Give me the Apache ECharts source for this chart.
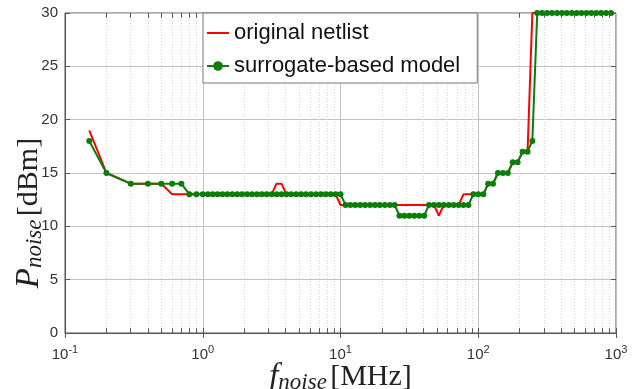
<!DOCTYPE html>
<html><head><meta charset="utf-8">
<script src="https://cdn.jsdelivr.net/npm/echarts@6/dist/echarts.min.js"></script>
<style>html,body{margin:0;padding:0;background:#fff}#c{width:641px;height:389px}</style>
</head><body><div id="c"></div>
<script>
const freqs = [0.15, 0.2, 0.3, 0.4, 0.5, 0.6, 0.7, 0.8, 0.9,
  1, 1.09, 1.18, 1.28, 1.39, 1.51, 1.64, 1.78, 1.93, 2.1, 2.28, 2.47, 2.68, 2.91, 3.16, 3.43, 3.73, 4.05, 4.39, 4.77, 5.18, 5.62, 6.11, 6.63, 7.2, 7.81, 8.48, 9.21,
  10, 10.9, 11.8, 12.8, 13.9, 15.1, 16.4, 17.8, 19.3, 21, 22.8, 24.7, 26.8, 29.1, 31.6, 34.3, 37.3, 40.5, 43.9, 47.7, 51.8, 56.2, 61.1, 66.3, 72, 78.1, 84.8, 92.1,
  100, 109, 118, 128, 139, 151, 164, 178, 193, 210, 228, 247, 268, 291, 316, 343, 373, 405, 439, 477, 518, 562, 611, 663, 720, 781, 848, 921, 1000];
const originalNetlist = [19, 15, 14, 14, 14, 13, 13, 13, 13,
  13, 13, 13, 13, 13, 13, 13, 13, 13, 13, 13, 13, 13, 13, 13, 14, 14, 13, 13, 13, 13, 13, 13, 13, 13, 13, 13, 13,
  12, 12, 12, 12, 12, 12, 12, 12, 12, 12, 12, 12, 12, 12, 12, 12, 12, 12, 12, 12, 11, 12, 12, 12, 12, 13, 13, 13,
  13, 13, 14, 14, 15, 15, 15, 16, 16, 17, 17, 30, 30, 30, 30, 30, 30, 30, 30, 30, 30, 30, 30, 30, 30, 30, 30, 30];
const surrogateModel = [18, 15, 14, 14, 14, 14, 14, 13, 13,
  13, 13, 13, 13, 13, 13, 13, 13, 13, 13, 13, 13, 13, 13, 13, 13, 13, 13, 13, 13, 13, 13, 13, 13, 13, 13, 13, 13,
  13, 12, 12, 12, 12, 12, 12, 12, 12, 12, 12, 12, 11, 11, 11, 11, 11, 11, 12, 12, 12, 12, 12, 12, 12, 12, 12, 13,
  13, 13, 14, 14, 15, 15, 15, 16, 16, 17, 17, 18, 30, 30, 30, 30, 30, 30, 30, 30, 30, 30, 30, 30, 30, 30, 30, 30];
const minorGrid = [0.2, 0.3, 0.4, 0.5, 0.6, 0.7, 0.8, 0.9, 2, 3, 4, 5, 6, 7, 8, 9, 20, 30, 40, 50, 60, 70, 80, 90, 200, 300, 400, 500, 600, 700, 800, 900];
const seriesNames = ['original netlist', 'surrogate-based model'];

const chart = echarts.init(document.getElementById('c'), null, {renderer: 'canvas'});
const zip = (ys) => freqs.map((f, i) => [f, ys[i]]);
const gridLines = minorGrid.map(v => ({xAxis: v}));
const minorTickSegs = [];
minorGrid.forEach(v => {
  minorTickSegs.push([{coord: [v, 0]}, {coord: [v, 0.45]}]);
  minorTickSegs.push([{coord: [v, 30]}, {coord: [v, 29.55]}]);
});
const serif = '"Liberation Serif", "DejaVu Serif", serif';
const sans = '"Liberation Sans", Arial, sans-serif';
const lineIcon = 'path://M0,5h22v2h-22z M0,0h0.01v0.01h-0.01z M21.99,11.99h0.01v0.01h-0.01z';
const titleRich = (lead) => ({
  [lead]: {fontFamily: serif, fontStyle: 'italic', fontSize: 33, color: '#222'},
  sub: {fontFamily: serif, fontStyle: 'italic', fontSize: 23, color: '#222', padding: [11, 0, 0, 0]},
  u: {fontFamily: serif, fontSize: 30, color: '#222'}
});
chart.setOption({
  animation: false,
  grid: {left: 65, right: 25, top: 13, bottom: 56, containLabel: false, outerBoundsMode: 'none',
    show: true, borderColor: '#555', borderWidth: 1, backgroundColor: 'transparent'},
  legend: {
    data: [{name: seriesNames[0], icon: lineIcon}, {name: seriesNames[1]}],
    orient: 'vertical', left: 203, top: 13, z: 20, zlevel: 0,
    padding: [8, 17, 5, 3], itemGap: 9, itemWidth: 22, itemHeight: 12,
    backgroundColor: '#fff', borderColor: '#777', borderWidth: 1, borderRadius: 0,
    textStyle: {fontFamily: sans, fontSize: 22, color: '#111', lineHeight: 24}
  },
  xAxis: [{
    type: 'log', logBase: 10, min: 0.1, max: 1000,
    axisLine: {lineStyle: {color: '#555'}},
    axisTick: {inside: true, length: 5, lineStyle: {color: '#555'}},
    splitLine: {show: true, lineStyle: {color: '#c2c2c2', width: 1}},
    axisLabel: {
      margin: 11, color: '#333',
      formatter: v => '{b|10}{s|' + Math.round(Math.log10(v)) + '}',
      rich: {b: {fontFamily: sans, fontSize: 15, color: '#333'}, s: {fontFamily: sans, fontSize: 11, color: '#333', padding: [0, 0, 10, 0]}}
    },
    name: '{f|f}{sub|noise} {u|[MHz]}', nameLocation: 'middle', nameGap: 27, nameMoveOverlap: false,
    nameTextStyle: {rich: titleRich('f')}
  }, {
    type: 'log', logBase: 10, min: 0.1, max: 1000, position: 'top',
    axisLine: {show: false}, axisLabel: {show: false}, splitLine: {show: false},
    axisTick: {inside: true, length: 5, lineStyle: {color: '#555'}}
  }],
  yAxis: [{
    type: 'value', min: 0, max: 30, interval: 5,
    axisLine: {show: true, lineStyle: {color: '#555'}},
    axisTick: {show: true, inside: true, length: 5, lineStyle: {color: '#555'}},
    splitLine: {show: true, lineStyle: {color: '#c2c2c2', width: 1}},
    axisLabel: {margin: 7, fontFamily: sans, fontSize: 15, color: '#333'},
    name: '{p|P}{sub|noise} {u|[dBm]}', nameLocation: 'middle', nameRotate: 90, nameGap: 19, nameMoveOverlap: false,
    nameTextStyle: {padding: [0, 80, 0, 0], rich: titleRich('p')}
  }, {
    type: 'value', min: 0, max: 30, interval: 5, position: 'right',
    axisLine: {show: false}, axisLabel: {show: false}, splitLine: {show: false},
    axisTick: {show: true, inside: true, length: 5, lineStyle: {color: '#555'}}
  }],
  series: [{
    name: 'grid-helper', type: 'line', data: [], silent: true, z: 1,
    markLine: {
      silent: true, symbol: 'none', label: {show: false}, animation: false, z: 1,
      lineStyle: {color: '#d6d6d6', type: [1, 2], width: 1},
      emphasis: {disabled: true},
      data: gridLines
    }
  }, {
    name: 'tick-helper', type: 'line', data: [], silent: true, z: 1,
    markLine: {
      silent: true, symbol: 'none', label: {show: false}, animation: false, z: 1,
      lineStyle: {color: '#555', type: 'solid', width: 1},
      emphasis: {disabled: true},
      data: minorTickSegs
    }
  }, {
    name: seriesNames[0], type: 'line', data: zip(originalNetlist),
    showSymbol: false, symbol: 'none', z: 3,
    lineStyle: {color: '#ff0000', width: 2}, itemStyle: {color: '#ff0000'}
  }, {
    name: seriesNames[1], type: 'line', data: zip(surrogateModel),
    symbol: 'circle', symbolSize: 6, showAllSymbol: true, z: 4,
    lineStyle: {color: '#0a7d0a', width: 2}, itemStyle: {color: '#0a7d0a'}
  }]
});
</script></body></html>
